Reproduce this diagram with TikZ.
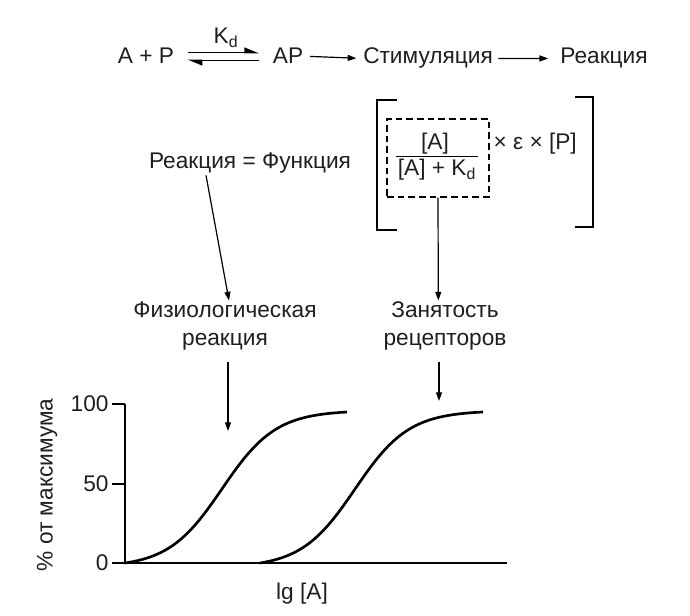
\documentclass[tikz,border=0pt]{standalone}
\usepackage{fontspec}
\setmainfont{Liberation Sans}
\usetikzlibrary{arrows.meta,calc}
\begin{document}
\begin{tikzpicture}[x=0.75pt,y=-0.75pt,
  txt/.style={inner sep=1pt, font=\fontsize{17}{20.5}\selectfont, text=black!88},
  arr/.style={-{Triangle[length=6.5pt,width=4.5pt]}, line width=0.9pt},
  harp/.style={-{Triangle[harpoon,length=10pt,width=8pt]}, line width=0.9pt},
  brk/.style={line width=1.2pt},
  dashbox/.style={draw, dashed, dash pattern=on 5pt off 3pt, line width=0.8pt, minimum width=76.5pt, minimum height=58.5pt, inner sep=0pt},
  axis/.style={line width=1.2pt},
  curve/.style={line width=2pt}]
\fill[white] (0,0) rectangle (690,616);
\useasboundingbox (0,0) rectangle (690,616);
% top reaction line
\node[txt, anchor=base] (ap0) at (146,64) {A + P};
\node[txt, anchor=base] (kd) at (226,44) {K\textsubscript{d}};
\node[txt, anchor=base] (ap) at (288,64) {AP};
\node[txt, anchor=base] (stim) at (428,64) {Стимуляция};
\node[txt, anchor=base] (react) at (604,64) {Реакция};
\draw[harp, shorten <=9pt, shorten >=9pt] ([yshift=2.5pt]ap0.east) -- ([yshift=2.5pt]ap.west);
\draw[harp, shorten <=9pt, shorten >=9pt] ([yshift=-3pt]ap.west) -- ([yshift=-3pt]ap0.east);
\draw[arr, shorten <=4pt, shorten >=4pt] (ap.east) -- (stim.west);
\draw[arr, shorten <=3pt, shorten >=8pt] (stim.east) -- (react.west);
% equation
\node[txt, anchor=base] (eq) at (250,169) {Реакция = Функция};
\node[dashbox] (box) at (438,158) {};
\node[txt, anchor=base] (num) at (435,150) {[A]};
\node[txt, anchor=base] (den) at (437,176) {[A] + K\textsubscript{d}};
\draw[line width=0.8pt] ([yshift=1pt]den.north west) -- ([yshift=1pt]den.north east);
\node[txt, anchor=base west] (eps) at (492,150) {× ε × [P]};
\draw[brk] (397,100) -- (377,100) -- (377,230) -- (397,230);
\draw[brk] (575,97) -- (593,97) -- (593,227) -- (575,227);
% labels
\node[txt, align=center] (phys) at (225,326) {Физиологическая\\реакция};
\node[txt, align=center] (occ) at (445,326) {Занятость\\рецепторов};
\draw[arr] ([xshift=-33pt]eq.south) -- ([xshift=3pt]phys.north);
\draw[arr] (box.south) -- ([xshift=-5pt]occ.north);
% graph
\coordinate (O) at (125,563);
\coordinate (Ytop) at (125,404);
\coordinate (Xend) at (507,563);
\coordinate (t1) at (228,431);
\coordinate (t2) at (439,401);
\draw[arr] ([yshift=-8pt]phys.south -| t1) -- (t1);
\draw[arr] ([yshift=-8pt]occ.south -| t2) -- (t2);
\draw[axis] (Ytop) -- (O) -- (Xend);
\draw[axis] (Ytop) -- ++(-13,0) node[txt, anchor=east, inner sep=2pt] (l100) {100};
\draw[axis] (125,484) -- ++(-13,0) node[txt, anchor=east, inner sep=2pt] (l50) {50};
\draw[axis] (O) -- ++(-13,0) node[txt, anchor=east, inner sep=2pt] (l0) {0};
\node[txt, rotate=90] (ylab) at (47,485) {\% от максимума};
\node[txt] (xlab) at (302,594) {lg [A]};
\draw[curve, smooth, samples=90, domain=125:347] plot (\x, {563-151*(1/(1+exp(-(\x-222)/27))-0.0269)/0.9635});
\draw[curve, smooth, samples=90, domain=260:483] plot (\x, {563-151*(1/(1+exp(-(\x-355)/27))-0.0288)/0.9625});
\end{tikzpicture}
\end{document}
